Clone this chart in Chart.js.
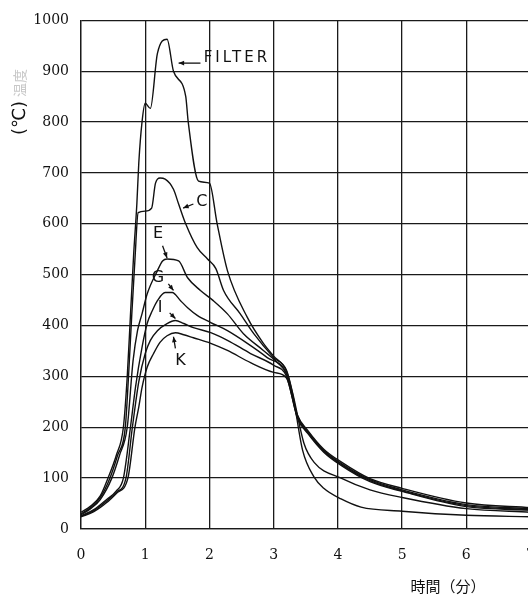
<!DOCTYPE html>
<html>
<head>
<meta charset="utf-8">
<script src="https://cdn.jsdelivr.net/npm/chart.js@4.4.0/dist/chart.umd.min.js"></script>
<style>
html,body{margin:0;padding:0;background:#fff;overflow:hidden;width:528px;height:599px;}
canvas{display:block;}
</style>
</head>
<body>
<canvas id="c" width="553" height="599"></canvas>
<script>
// ---- data (minutes, °C) ----
const xTicks = [0,1,2,3,4,5,6,7];
const yTicks = [0,100,200,300,400,500,600,700,800,900,1000];

const filterX = [0,0.15,0.3,0.42,0.55,0.66,0.72,0.77,0.82,0.87,0.9,0.95,1.0,1.08,1.19,1.34,1.44,1.63,1.67,1.83,2.0,2.12,2.28,2.59,2.84,3.0,3.2,3.3,3.45,3.63,3.78,4.05,4.36,5.0,6.0,7.0];
const filterY = [33,45,65,100,145,200,300,420,540,640,720,800,837,827,935,963,900,851,800,684,680,600,508,416,365,340,310,262,155,102,80,59,43,35,27,24];

const cX = [0,0.15,0.3,0.45,0.57,0.69,0.74,0.79,0.84,0.89,1.0,1.1,1.16,1.23,1.31,1.44,1.52,1.63,1.81,1.97,2.1,2.22,2.48,2.69,3.0,3.2,3.3,3.47,3.63,4.05,4.5,5.0,6.0,7.0];
const cY = [30,42,62,100,145,200,300,420,530,622,625,631,680,690,688,668,639,600,553,531,512,469,423,384,337,312,265,169,131,100,77,62,40,33];

const eX = [0,0.15,0.3,0.48,0.6,0.72,0.81,0.88,0.95,1.03,1.19,1.27,1.34,1.52,1.66,1.86,2.06,2.28,2.53,2.84,3.06,3.2,3.37,3.53,3.78,4.05,4.5,5.0,6.0,7.0];
const eY = [28,40,58,100,145,200,330,390,423,462,508,527,531,527,494,469,449,423,384,351,327,305,224,194,157,132,99,80,51,42];

const gX = [0,0.2,0.4,0.55,0.66,0.77,0.85,0.95,1.03,1.11,1.19,1.31,1.42,1.55,1.66,1.81,2.02,2.28,2.59,2.9,3.2,3.37,3.53,3.78,4.05,4.5,5.0,6.0,7.0];
const gY = [26,38,58,75,100,200,280,357,404,429,449,465,465,449,435,420,406,390,365,337,305,222,192,155,129,97,77,48,40];

const iX = [0,0.2,0.4,0.55,0.7,0.8,0.9,1.0,1.08,1.19,1.34,1.47,1.6,1.75,2.02,2.28,2.64,3.0,3.2,3.37,3.53,3.78,4.05,4.5,5.0,6.0,7.0];
const iY = [25,36,55,72,100,200,290,345,371,390,404,410,404,396,386,371,345,322,300,220,190,153,127,95,75,46,38];

const kX = [0,0.2,0.4,0.55,0.73,0.84,0.9,0.95,1.03,1.13,1.23,1.34,1.47,1.6,1.75,2.02,2.28,2.64,3.0,3.2,3.37,3.53,3.78,4.05,4.5,5.0,6.0,7.0];
const kY = [24,34,52,70,100,200,240,278,318,345,367,380,386,382,376,365,351,327,308,297,218,188,151,125,93,74,44,37];

const seriesNames = ['FILTER','C','E','G','I','K'];

// curve labels in data units
const labelText = ['FILTER','C','E','G','I','K'];
const labelPos  = [[1.91,925],[1.88,643],[1.2,580],[1.2,494],[1.23,435],[1.55,331]];
const arrowTail = [[1.86,916],[1.75,639],[1.27,557],[1.36,482],[1.38,425],[1.47,355]];
const arrowTip  = [[1.52,916],[1.59,631],[1.34,533],[1.44,469],[1.47,414],[1.44,378]];

function pts(xs, ys){ return xs.map((x,i)=>({x:x,y:ys[i]})); }

const allX = [filterX,cX,eX,gX,iX,kX];
const allY = [filterY,cY,eY,gY,iY,kY];

const datasets = seriesNames.map((n,i)=>({
  label:n,
  data:pts(allX[i],allY[i]),
  borderColor:'#111',
  borderWidth:1.4,
  pointRadius:0,
  fill:false,
  cubicInterpolationMode:'monotone'
}));

const annot = {
  id:'annot',
  afterDatasetsDraw(chart){
    const ctx = chart.ctx, xs = chart.scales.x, ys = chart.scales.y;
    ctx.save();
    ctx.strokeStyle = '#111'; ctx.fillStyle = '#111'; ctx.lineWidth = 1.3;
    labelText.forEach((t,i)=>{
      const tx = xs.getPixelForValue(arrowTail[i][0]), ty = ys.getPixelForValue(arrowTail[i][1]);
      const hx = xs.getPixelForValue(arrowTip[i][0]),  hy = ys.getPixelForValue(arrowTip[i][1]);
      ctx.beginPath(); ctx.moveTo(tx,ty); ctx.lineTo(hx,hy); ctx.stroke();
      const a = Math.atan2(hy-ty, hx-tx), L = 6;
      ctx.beginPath();
      ctx.moveTo(hx,hy);
      ctx.lineTo(hx - L*Math.cos(a-0.4), hy - L*Math.sin(a-0.4));
      ctx.lineTo(hx - L*Math.cos(a+0.4), hy - L*Math.sin(a+0.4));
      ctx.closePath(); ctx.fill();
      const px = xs.getPixelForValue(labelPos[i][0]), py = ys.getPixelForValue(labelPos[i][1]);
      if (t === 'FILTER') {
        ctx.font = '15px "DejaVu Sans"';
        ctx.letterSpacing = '3px';
        ctx.textAlign = 'left';
      } else {
        ctx.font = '16px "DejaVu Sans"';
        ctx.letterSpacing = '0px';
        ctx.textAlign = 'center';
      }
      ctx.textBaseline = 'middle';
      ctx.fillText(t, px, py);
    });
    ctx.letterSpacing = '0px';
    // axis titles
    ctx.font = '15px "Noto Sans CJK JP"';
    ctx.textAlign = 'center'; ctx.textBaseline = 'middle';
    ctx.fillText('時間（分）', 448, 586);
    ctx.save();
    ctx.translate(20, ys.getPixelForValue(800));
    ctx.rotate(-Math.PI/2);
    ctx.font = '18px "DejaVu Sans"';
    ctx.textAlign = 'left';
    ctx.fillText('(℃)', -13, 0);
    ctx.fillStyle = '#c8c8c8';
    ctx.font = '14px "Noto Sans CJK JP"';
    ctx.fillText('温度', 25, 0);
    ctx.restore();
    ctx.restore();
  }
};

new Chart(document.getElementById('c'), {
  type:'line',
  data:{datasets:datasets},
  options:{
    responsive:false,
    animation:false,
    layout:{padding:{top:19,right:10,left:0,bottom:0}},
    plugins:{legend:{display:false},tooltip:{enabled:false}},
    scales:{
      x:{
        type:'linear', min:0, max:7,
        afterBuildTicks(s){ s.ticks = xTicks.map(v=>({value:v})); },
        afterFit(s){ s.height = 70; },
        grid:{color:'#1a1a1a', lineWidth:1.3, drawTicks:false},
        border:{color:'#1a1a1a', width:1.3},
        ticks:{color:'#111', padding:18, font:{family:'DejaVu Serif', size:14}, callback:v=>String(v)}
      },
      y:{
        type:'linear', min:0, max:1000,
        afterBuildTicks(s){ s.ticks = yTicks.map(v=>({value:v})); },
        afterFit(s){ s.width = 81; },
        grid:{color:'#1a1a1a', lineWidth:1.3, drawTicks:false},
        border:{color:'#1a1a1a', width:1.3},
        ticks:{color:'#111', padding:12, font:{family:'DejaVu Serif', size:14}, callback:v=>String(v)}
      }
    }
  },
  plugins:[annot]
});
</script>
</body>
</html>
